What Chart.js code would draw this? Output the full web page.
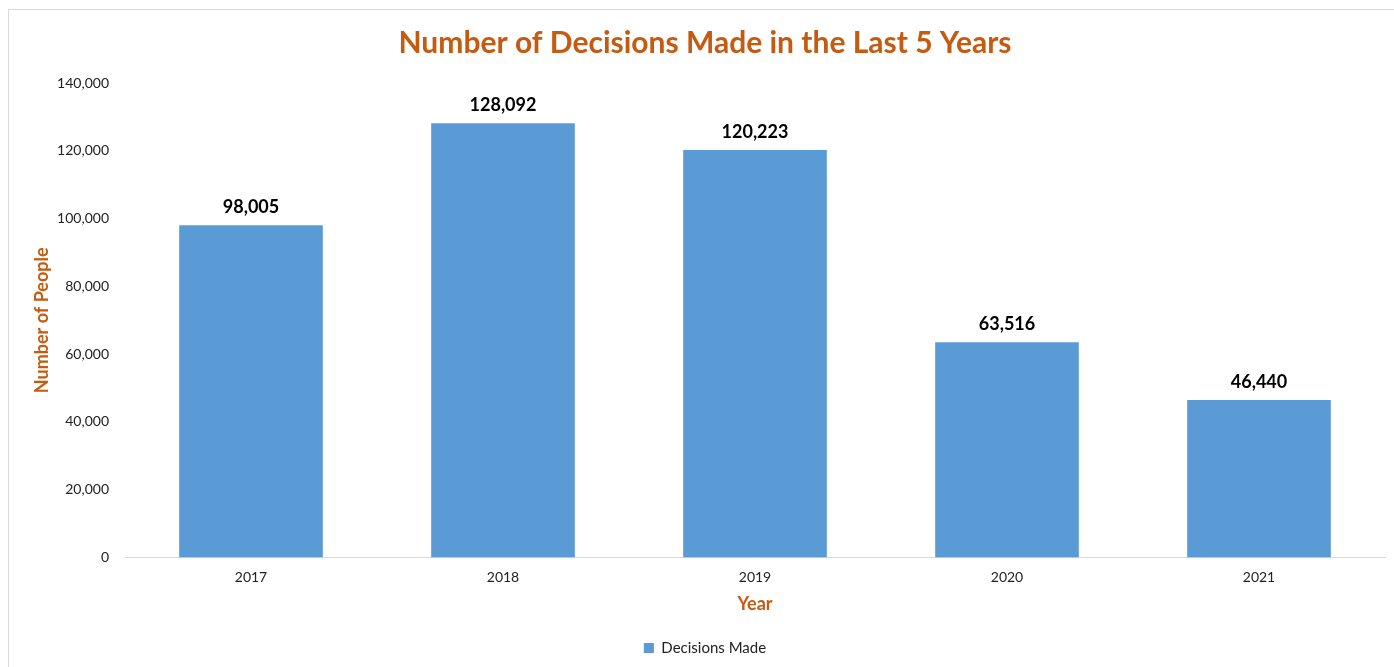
<!DOCTYPE html>
<html>
<head>
<meta charset="utf-8">
<script src="https://cdn.jsdelivr.net/npm/chart.js@4"></script>
<style>
  html, body { margin: 0; padding: 0; background: #fff; }
  #wrap { position: relative; width: 1394px; height: 667px; overflow: hidden; }
  #frame { position: absolute; left: 8px; top: 9px; width: 1400px; height: 700px; border: 1px solid #d9d9d9; box-sizing: border-box; }
  canvas { position: absolute; left: 0; top: 0; }
</style>
</head>
<body>
<div id="wrap">
  <div id="frame"></div>
  <canvas id="chart" width="1394" height="667"></canvas>
</div>
<script>
const years = ["2017", "2018", "2019", "2020", "2021"];
const decisions = [98005, 128092, 120223, 63516, 46440];
const seriesName = "Decisions Made";
const yTicks = [0, 20000, 40000, 60000, 80000, 100000, 120000, 140000];

const orange = "#C55A11";
const barBlue = "#5B9BD5";
const fontFamily = "Lato, 'Open Sans', sans-serif";

// Draw the value above each bar
const barLabels = {
  id: "barLabels",
  afterDatasetsDraw(chart) {
    const ctx = chart.ctx;
    const meta = chart.getDatasetMeta(0);
    ctx.save();
    ctx.font = "bold 18px " + fontFamily;
    ctx.fillStyle = "#000";
    ctx.textAlign = "center";
    ctx.textBaseline = "middle";
    meta.data.forEach((bar, i) => {
      ctx.fillText(decisions[i].toLocaleString("en-US"), bar.x, bar.y - 18);
    });
    ctx.restore();
  }
};

new Chart(document.getElementById("chart"), {
  type: "bar",
  data: {
    labels: years,
    datasets: [{
      label: seriesName,
      data: decisions,
      backgroundColor: barBlue,
      barPercentage: 0.57,
      categoryPercentage: 1
    }]
  },
  options: {
    responsive: false,
    animation: false,
    layout: { padding: { left: 25, right: 9, top: 0, bottom: 1.5 } },
    plugins: {
      title: {
        display: true,
        text: "Number of Decisions Made in the Last 5 Years",
        color: orange,
        font: { family: fontFamily, size: 30, weight: "bold" },
        padding: { top: 25, bottom: 22 }
      },
      legend: {
        position: "bottom",
        labels: {
          color: "#222",
          font: { family: fontFamily, size: 15 },
          boxWidth: 10,
          boxHeight: 10,
          padding: 8
        }
      },
      tooltip: { enabled: false }
    },
    scales: {
      x: {
        afterFit(scale) { scale.height = 75; },
        grid: { display: false },
        border: { color: "#d9d9d9", width: 1 },
        ticks: { color: "#222", font: { family: fontFamily, size: 14 }, padding: 4 },
        title: {
          display: true,
          text: "Year",
          color: orange,
          font: { family: fontFamily, size: 18, weight: "bold" },
          padding: { top: 0, bottom: 18 }
        }
      },
      y: {
        min: 0,
        max: 140000,
        afterBuildTicks(scale) {
          scale.ticks = yTicks.map(v => ({ value: v }));
        },
        afterFit(scale) { scale.width = 100; },
        grid: { display: false },
        border: { display: false },
        ticks: {
          color: "#222",
          font: { family: fontFamily, size: 14 },
          padding: 8,
          callback: v => v.toLocaleString("en-US")
        },
        title: {
          display: true,
          text: "Number of People",
          color: orange,
          font: { family: fontFamily, size: 18, weight: "bold" },
          padding: { top: 6, bottom: 0 }
        }
      }
    }
  },
  plugins: [barLabels]
});
</script>
</body>
</html>
